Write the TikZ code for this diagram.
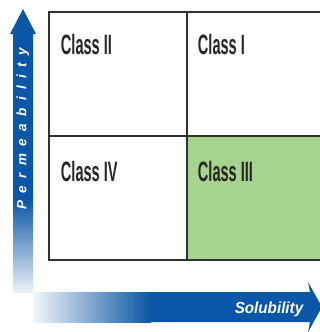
\documentclass[tikz,border=0pt]{standalone}
\usepackage{fontspec}
\setmainfont{Liberation Sans}
\newfontfamily\classfont[FakeStretch=0.52]{Liberation Sans}
\newfontfamily\axisfont[FakeStretch=0.95]{Liberation Sans}
\newfontfamily\permfont[LetterSpace=55]{Liberation Sans}
\usetikzlibrary{positioning}
\definecolor{axisblue}{HTML}{0B56A6}
\definecolor{classgreen}{HTML}{A6D48E}
\definecolor{gridline}{HTML}{303030}
\tikzstyle{cell}=[
        draw=gridline,
        line width=2.5pt,
        minimum width=138pt,
        minimum height=124pt,
        inner sep=0pt
]
\tikzstyle{classname}=[
        font=\classfont\bfseries\fontsize{28}{28}\selectfont,
        text=black!85,
        inner sep=0pt
]
\tikzstyle{axisname}=[
        text=white,
        inner sep=0pt
]

\begin{document}
\begin{tikzpicture}[x=1pt,y=-1pt]
    \useasboundingbox (0,0) rectangle (320,332);
    \clip (0,0) rectangle (320,332);

    % the four classes
    \node[cell] (c2) at (118,74) {};
    \node[cell] (c1) at (256,74) {};
    \node[cell] (c4) at (118,198) {};
    \node[cell,fill=classgreen] (c3) at (256,198) {};

    \node[classname, below right=23pt and 13pt of c2.north west] (l2) {Class II};
    \node[classname, below right=23pt and 12pt of c1.north west] (l1) {Class I};
    \node[classname, below right=26pt and 13pt of c4.north west] (l4) {Class IV};
    \node[classname, below right=26pt and 12pt of c3.north west] (l3) {Class III};

    % permeability axis
    \fill[axisblue] (13,200) -- (13,34) -- (10,34) -- (23,9) -- (36,34) -- (33,34) -- (33,200) -- cycle;
    \shade[top color=axisblue, bottom color=axisblue!8] (13,199) rectangle (33,292);

    % solubility axis
    \fill[axisblue] (150,292) -- (310,292) -- (308,282) -- (322,307) -- (308,332) -- (310,322) -- (150,322) -- cycle;
    \shade[left color=axisblue!5, right color=axisblue] (33,292) rectangle (151,322);

    \node[axisname, font=\permfont\bfseries\itshape\fontsize{13.5}{13.5}\selectfont, rotate=90] (perm) at (23,129) {Permeability};
    \node[axisname, font=\axisfont\bfseries\itshape\fontsize{16}{16}\selectfont] (sol) at (269,309) {Solubility};
\end{tikzpicture}
\end{document}
